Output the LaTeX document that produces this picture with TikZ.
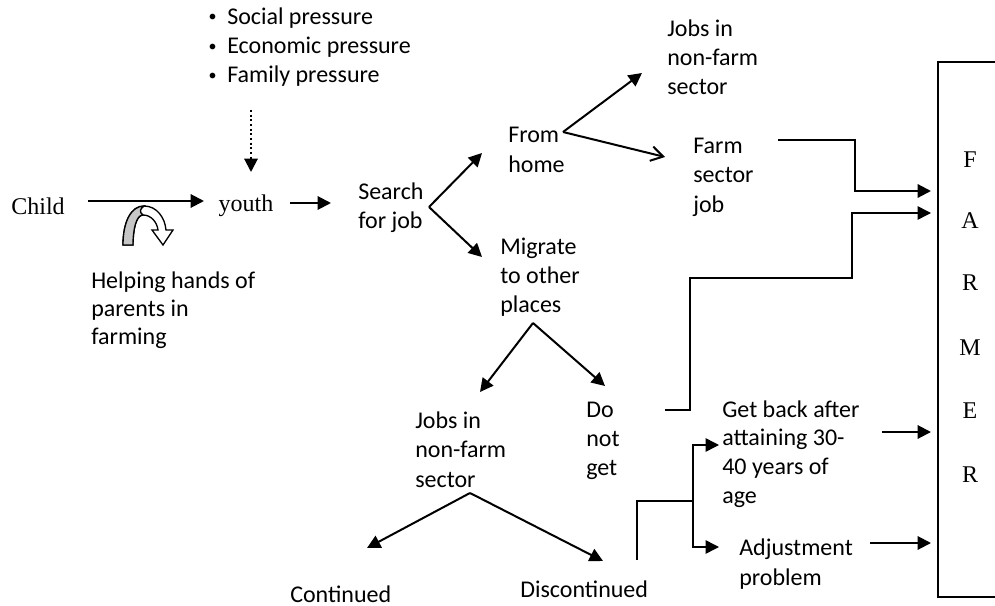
\documentclass[tikz,border=0pt]{standalone}
\usepackage{fontspec}
\setmainfont{Carlito}
\newfontfamily\tnr{Liberation Serif}
\usetikzlibrary{arrows.meta}
\newcommand{\smbul}{\makebox[15pt][l]{\hspace{1pt}\raisebox{1.6pt}{\fontsize{12}{12}\selectfont •}}}
\begin{document}
\begin{tikzpicture}[x=0.75pt,y=-0.75pt,
  lbl/.style={anchor=base west, inner sep=0pt, align=left, font=\fontsize{18}{22.1}\selectfont},
  ser/.style={anchor=base, inner sep=0pt, font=\tnr\fontsize{18}{22}\selectfont},
  arr/.style={line width=1.5pt, -{Triangle[length=10pt,width=10pt]}},
  openarr/.style={line width=1.5pt, -{Straight Barb[length=9pt,width=11pt,line width=1.5pt]}},
  dotarr/.style={line width=1.5pt, dotted, -{Triangle[length=10pt,width=10pt]}},
  ln/.style={line width=1.1pt},
]
\useasboundingbox (0,0) rectangle (995,606);

% ---- texts (base anchor = baseline of last line) ----
\node[ser] (child) at (38,214) {Child};
\node[ser] (youth) at (246,211) {youth};
\node[lbl, font=\fontsize{18}{22.1}\selectfont] (press) at (207,83)
  {\smbul Social pressure\\ \smbul Economic pressure\\ \smbul Family pressure};
\node[lbl, font=\fontsize{18}{21}\selectfont] (help) at (91,344) {Helping hands of\\parents in\\farming};
\node[lbl, font=\fontsize{18}{21}\selectfont] (search) at (358,228) {Search\\for job};
\node[lbl, font=\fontsize{18}{21.75}\selectfont] (fromhome) at (508,172) {From\\home};
\node[lbl] (jobsA) at (667,95) {Jobs in\\non-farm\\sector};
\node[lbl] (farm) at (693,212) {Farm\\sector\\job};
\node[lbl, font=\fontsize{18}{21.4}\selectfont] (migrate) at (500,312) {Migrate\\to other\\places};
\node[lbl] (jobsB) at (415,487) {Jobs in\\non-farm\\sector};
\node[lbl, font=\fontsize{18}{21.75}\selectfont] (donot) at (586,475) {Do\\not\\get};
\node[lbl] (cont) at (290,602) {Continued};
\node[lbl] (discont) at (520,597) {Discontinued};
\node[lbl, font=\fontsize{18}{21.5}\selectfont] (getback) at (722,503) {Get back after\\attaining 30-\\40 years of\\age};
\node[lbl, font=\fontsize{18}{22.5}\selectfont] (adjust) at (739,585) {Adjustment\\problem};

% FARMER box
\draw[ln] (1000,62) -- (938,62) -- (938,597) -- (1000,597);
\node[ser] (fF) at (970,167) {F};
\node[ser] (fA) at (970,228) {A};
\node[ser] (fR) at (970,290) {R};
\node[ser] (fM) at (970,355) {M};
\node[ser] (fE) at (970,418) {E};
\node[ser] (fR2) at (970,482) {R};

% ---- connector end points ----
\coordinate (childout) at (88,201);
\coordinate (youthin) at (204,201);
\coordinate (pressout) at (251,110);
\coordinate (youthtop) at (251,172);
\coordinate (youthout) at (290,203);
\coordinate (searchin) at (331,203);
\coordinate (searchout) at (429,207);
\coordinate (fromin) at (482,153);
\coordinate (migin) at (482,257);
\coordinate (fromout) at (563,132);
\coordinate (jobsAin) at (642,73);
\coordinate (farmin) at (665,157);
\coordinate (farmout) at (778,140);
\coordinate (Fin) at (931,191);
\coordinate (donotout) at (665,410);
\coordinate (Ain) at (931,213);
\coordinate (migout) at (533,323);
\coordinate (jobsBin) at (480,392);
\coordinate (donotin) at (605,386);
\coordinate (jobsBout) at (470,493);
\coordinate (contin) at (367,548);
\coordinate (discin) at (603,561);
\coordinate (discout) at (637,560);
\coordinate (split) at (693,501);
\coordinate (getin) at (719,445);
\coordinate (adjin) at (719,547);
\coordinate (getout) at (882,432);
\coordinate (Ein) at (931,432);
\coordinate (adjout) at (870,543);
\coordinate (boxin) at (931,543);

% ---- connectors ----
\draw[arr] (childout) -- (youthin);
\draw[dotarr] (pressout) -- (youthtop);
\draw[arr] (youthout) -- (searchin);
\draw[arr] (searchout) -- (fromin);
\draw[arr] (searchout) -- (migin);
\draw[arr] (fromout) -- (jobsAin);
\draw[openarr] (fromout) -- (farmin);
\draw[arr, line width=1.6pt] (farmout) -- (855,140) -- (855,191) -- (Fin);
\draw[arr, line width=1.1pt] (donotout) -- (690,410) -- (690,278) -- (852,278) -- (852,213) -- (Ain);
\draw[arr] (migout) -- (jobsBin);
\draw[arr] (migout) -- (donotin);
\draw[arr] (jobsBout) -- (contin);
\draw[arr] (jobsBout) -- (discin);
\draw[ln] (discout) |- (split);
\draw[arr, line width=1.1pt] (split) |- (getin);
\draw[arr, line width=1.1pt] (split) |- (adjin);
\draw[arr] (getout) -- (Ein);
\draw[arr] (adjout) -- (boxin);

% ---- curved (U-turn) arrow ----
\filldraw[fill=white, line width=1pt]
  (123,245) .. controls (123,222) and (131,206) .. (144,206)
  .. controls (157,206) and (165,218) .. (166,230)
  -- (173,230) -- (163,245) -- (152,230) -- (158,230)
  .. controls (157,222) and (151,215) .. (143,215)
  .. controls (136,215) and (133,230) .. (133,245) -- cycle;
\filldraw[fill=gray!45, line width=1pt]
  (123,245) .. controls (123,222) and (131,206) .. (144,206)
  .. controls (140,209) and (139,212) .. (143,215)
  .. controls (136,215) and (133,230) .. (133,245) -- cycle;
\end{tikzpicture}
\end{document}
